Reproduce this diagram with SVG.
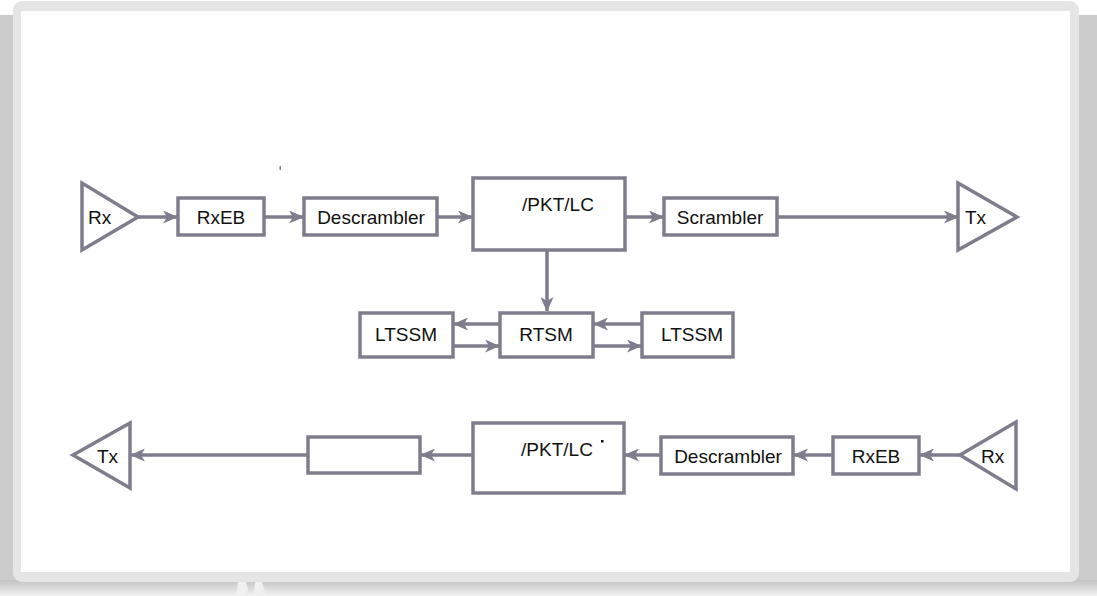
<svg xmlns="http://www.w3.org/2000/svg" width="1097" height="596" viewBox="0 0 1097 596">
  <defs>
    <marker id="ah" markerWidth="15" markerHeight="13" refX="14" refY="6.5" orient="auto" markerUnits="userSpaceOnUse">
      <path d="M0,0 L15,6.5 L0,13 L4,6.5 Z" fill="#7f7d8d"/>
    </marker>
    <linearGradient id="shadow" x1="0" y1="0" x2="0" y2="1">
      <stop offset="0" stop-color="#c2c2c2"/>
      <stop offset="1" stop-color="#f2f2f2"/>
    </linearGradient>
    <style>
      .box { fill: #ffffff; stroke: #7f7d8d; stroke-width: 3.5; }
      .tri { fill: #ffffff; stroke: #7f7d8d; stroke-width: 3.5; stroke-linejoin: miter; }
      .arr { fill: none; stroke: #7f7d8d; stroke-width: 3.5; marker-end: url(#ah); }
      .t { font-family: "Liberation Sans", Arial, sans-serif; font-size: 19px; fill: #111111; }
      .c { text-anchor: middle; }
    </style>
  </defs>

  <!-- background and frame -->
  <rect x="0" y="0" width="1097" height="596" fill="#ffffff"/>
  <rect x="0" y="15" width="1097" height="581" fill="#cccccc"/>
  <rect x="0" y="580" width="1097" height="16" fill="url(#shadow)"/>
  <rect x="13" y="1" width="1066" height="581" rx="9" fill="#e5e5e5"/>
  <rect x="21" y="11" width="1049" height="561" fill="#ffffff"/>
  <path d="M238,582 L246,582 L248,590 L244,596 L236,596 Z" fill="#f0f0f0"/>
  <path d="M255,582 L262,582 L266,596 L254,596 Z" fill="#f0f0f0"/>

  <!-- connectors -->
  <g id="connectors">
    <line class="arr" x1="138" y1="217" x2="177" y2="217"/>
    <line class="arr" x1="264" y1="217" x2="303" y2="217"/>
    <line class="arr" x1="437" y1="217" x2="472" y2="217"/>
    <line class="arr" x1="625" y1="217" x2="663" y2="217"/>
    <line class="arr" x1="777" y1="217" x2="958" y2="217"/>
    <line class="arr" x1="547" y1="250" x2="547" y2="311"/>
    <line class="arr" x1="500" y1="324" x2="454" y2="324"/>
    <line class="arr" x1="453" y1="346" x2="499" y2="346"/>
    <line class="arr" x1="642" y1="324" x2="594" y2="324"/>
    <line class="arr" x1="593" y1="346" x2="641" y2="346"/>
    <line class="arr" x1="308" y1="455" x2="131" y2="455"/>
    <line class="arr" x1="473" y1="455" x2="421" y2="455"/>
    <line class="arr" x1="661" y1="455" x2="625" y2="455"/>
    <line class="arr" x1="833" y1="455" x2="794" y2="455"/>
    <line class="arr" x1="960" y1="455" x2="920" y2="455"/>
  </g>

  <!-- top row -->
  <g id="rx-top">
    <polygon class="tri" points="82,183 82,250 138,217"/>
    <text class="t" x="88" y="224">Rx</text>
  </g>
  <g id="rxeb-top">
    <rect class="box" x="178" y="198" width="86" height="37"/>
    <text class="t c" x="221" y="224">RxEB</text>
  </g>
  <g id="descrambler-top">
    <rect class="box" x="304" y="198" width="133" height="37"/>
    <text class="t c" x="371" y="224">Descrambler</text>
  </g>
  <g id="pkt-top">
    <rect class="box" x="473" y="178" width="152" height="72"/>
    <text class="t c" x="558" y="211">/PKT/LC</text>
  </g>
  <g id="scrambler-top">
    <rect class="box" x="664" y="198" width="113" height="37"/>
    <text class="t c" x="720" y="224">Scrambler</text>
  </g>
  <g id="tx-top">
    <polygon class="tri" points="958,183 958,250 1017,217"/>
    <text class="t" x="965" y="224">Tx</text>
  </g>
  <rect x="279.5" y="166" width="1.5" height="4" fill="#7f7d8d"/>

  <!-- middle row -->
  <g id="ltssm-left">
    <rect class="box" x="360" y="313" width="93" height="44"/>
    <text class="t c" x="406" y="341">LTSSM</text>
  </g>
  <g id="rtsm">
    <rect class="box" x="500" y="313" width="93" height="44"/>
    <text class="t c" x="546" y="341">RTSM</text>
  </g>
  <g id="ltssm-right">
    <rect class="box" x="642" y="313" width="91" height="44"/>
    <text class="t c" x="692" y="341">LTSSM</text>
  </g>

  <!-- bottom row -->
  <g id="tx-bottom">
    <polygon class="tri" points="73,455 130,423 130,488"/>
    <text class="t" x="97" y="463">Tx</text>
  </g>
  <g id="blank-bottom">
    <rect class="box" x="308" y="437" width="112" height="36"/>
  </g>
  <g id="pkt-bottom">
    <rect class="box" x="473" y="423" width="151" height="70"/>
    <text class="t c" x="557" y="456">/PKT/LC</text>
    <rect x="601" y="440" width="2.5" height="2.5" fill="#111111"/>
  </g>
  <g id="descrambler-bottom">
    <rect class="box" x="661" y="437" width="132" height="37"/>
    <text class="t c" x="728" y="463">Descrambler</text>
  </g>
  <g id="rxeb-bottom">
    <rect class="box" x="833" y="437" width="86" height="37"/>
    <text class="t c" x="876" y="463">RxEB</text>
  </g>
  <g id="rx-bottom">
    <polygon class="tri" points="960,455 1016,422 1016,489"/>
    <text class="t" x="981" y="463">Rx</text>
  </g>
</svg>
